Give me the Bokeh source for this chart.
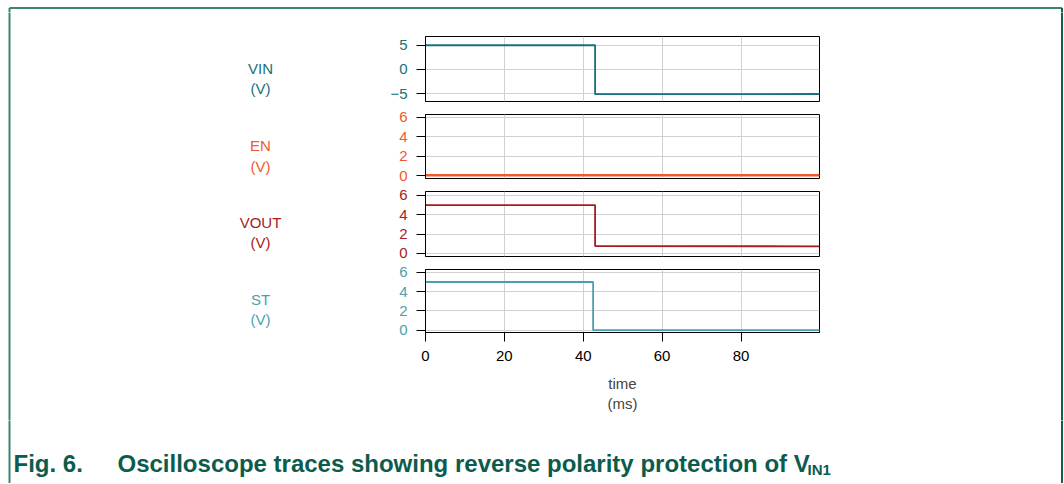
from bokeh.plotting import figure
from bokeh.layouts import column, row
from bokeh.models import Range1d, FixedTicker, Label
from bokeh.embed import file_html
from bokeh.resources import INLINE

# ---- data ----
time_ticks = [0, 20, 40, 60, 80]

vin_t = [0.0, 43.0, 43.0, 99.9]
vin_v = [5.0, 5.0, -5.1, -5.05]

en_t = [0.0, 99.9]
en_v = [0.05, 0.05]

vout_t = [0.0, 43.0, 43.0, 99.9]
vout_v = [4.98, 4.98, 0.76, 0.74]

st_t = [0.0, 42.5, 42.5, 99.9]
st_v = [5.0, 5.0, 0.0, 0.0]

vin_ticks = [-5, 0, 5]
std_ticks = [0, 2, 4, 6]

labels = ["VIN\n(V)", "EN\n(V)", "VOUT\n(V)", "ST\n(V)"]
colors = ["#17707a", "#f0592b", "#a81b22", "#4b9fae"]

caption_fig = "Fig. 6."
caption_text = "Oscilloscope traces showing reverse polarity protection of V"
caption_sub = "IN1"

FONT = "Liberation Sans"
TOTAL_W = 1063
LEFT_W = 380          # decoration column left of the panel figures
PANEL_W = 444         # panel figure (45 left border + 394 frame + 5 right)
RIGHT_W = TOTAL_W - LEFT_W - PANEL_W
BORDER_L = "#3a8576"
BORDER_R = "#14604f"
CAP_COLOR = "#0b5c4c"

x_range = Range1d(0, 99.9)


def decor(width, height):
    d = figure(width=width, height=height, x_range=Range1d(0, width),
               y_range=Range1d(height, 0), x_axis_location=None, y_axis_location=None,
               min_border=0, toolbar_location=None, output_backend="svg",
               frame_align=False, sizing_mode="fixed")
    d.outline_line_color = None
    d.grid.visible = False
    return d


def panel(t, v, color, yr, yticks, top, frame_h, bottom, xaxis=False, lw=1.8):
    h = top + frame_h + bottom
    p = figure(width=PANEL_W, height=h, x_range=x_range, y_range=Range1d(*yr),
               output_backend="svg", toolbar_location=None,
               x_axis_location="below" if xaxis else None,
               min_border_left=45, min_border_right=5,
               min_border_top=top, min_border_bottom=bottom, frame_align=False,
               sizing_mode="fixed")
    p.outline_line_color = "black"
    p.outline_line_width = 1
    p.line(t, v, line_color=color, line_width=lw)
    ax = p.yaxis[0]
    ax.ticker = FixedTicker(ticks=yticks)
    ax.major_label_text_color = color
    ax.major_label_text_font = FONT
    ax.major_label_text_font_size = "15px"
    ax.major_tick_out = 9
    ax.major_tick_in = 0
    ax.minor_tick_line_color = None
    ax.major_tick_line_color = "black"
    ax.axis_line_color = "black"
    ax.major_label_standoff = 9
    p.ygrid.ticker = FixedTicker(ticks=yticks)
    p.xgrid.ticker = FixedTicker(ticks=time_ticks)
    for g in (p.xgrid, p.ygrid):
        g.grid_line_color = "#d2d2d2"
        g.grid_line_width = 1
    if xaxis:
        xa = p.xaxis[0]
        xa.ticker = FixedTicker(ticks=time_ticks)
        xa.major_label_text_font = FONT
        xa.major_label_text_font_size = "15px"
        xa.major_label_text_color = "black"
        xa.major_tick_out = 9
        xa.major_tick_in = 0
        xa.minor_tick_line_color = None
        xa.major_label_standoff = 9
        xa.axis_label = "time\n(ms)"
        xa.axis_label_text_font = FONT
        xa.axis_label_text_font_size = "15px"
        xa.axis_label_text_font_style = "normal"
        xa.axis_label_standoff = 11
    return p


p1 = panel(vin_t, vin_v, colors[0], (-6.6, 6.8), vin_ticks, 24, 65, 6)
p2 = panel(en_t, en_v, colors[1], (-0.28, 6.3), std_ticks, 7, 64, 6, lw=2.4)
p3 = panel(vout_t, vout_v, colors[2], (-0.31, 6.37), std_ticks, 7, 65, 6)
p4 = panel(st_t, st_v, colors[3], (-0.24, 6.3), std_ticks, 7, 63, 88, xaxis=True)
mid_h = 95 + 77 + 78 + 158

# left column: panel names and the frame's left edge
left = decor(LEFT_W, mid_h)
left.segment(x0=[9], y0=[-5], x1=[9], y1=[mid_h + 5], line_color=BORDER_L, line_width=2)
for lab, col, yc in zip(labels, colors, [66, 143.5, 220, 297]):
    left.add_layout(Label(x=260, y=yc, text=lab, text_align="center",
                          text_baseline="middle", text_color=col, text_font=FONT,
                          text_font_size="15px", text_line_height=1.2))

# right column: the frame's right edge
right = decor(RIGHT_W, mid_h)
right.segment(x0=[RIGHT_W - 1.5], y0=[-5], x1=[RIGHT_W - 1.5], y1=[mid_h + 5],
              line_color=BORDER_R, line_width=2)

# top strip with the frame's top edge
top_h = 12
top = decor(TOTAL_W, top_h)
top.segment(x0=[9, 9, TOTAL_W - 1.5], y0=[7.5, 7.5, 7.5],
            x1=[TOTAL_W - 1.5, 9, TOTAL_W - 1.5], y1=[7.5, top_h + 5, top_h + 5],
            line_color=[BORDER_L, BORDER_L, BORDER_R], line_width=2)

# caption strip
cap_h = 483 - (top_h + mid_h)
cap = decor(TOTAL_W, cap_h)
cap.segment(x0=[9, TOTAL_W - 1.5], y0=[-5, -5], x1=[9, TOTAL_W - 1.5], y1=[cap_h + 5, cap_h + 5],
            line_color=[BORDER_L, BORDER_R], line_width=2)
cap.add_layout(Label(x=13, y=43.4, text=caption_fig, text_font=FONT, text_font_size="24px",
                     text_font_style="bold", text_color=CAP_COLOR, text_baseline="middle"))
cap.add_layout(Label(x=117, y=43.4, text=caption_text, text_font=FONT, text_font_size="24px",
                     text_font_style="bold", text_color=CAP_COLOR, text_baseline="middle"))
cap.add_layout(Label(x=807, y=49.3, text=caption_sub, text_font=FONT, text_font_size="15px",
                     text_font_style="bold", text_color=CAP_COLOR, text_baseline="middle"))

mid = row(left, column(p1, p2, p3, p4, spacing=0), right, spacing=0)
layout = column(top, mid, cap, spacing=0)

open("out.html", "w").write(file_html(layout, INLINE))
